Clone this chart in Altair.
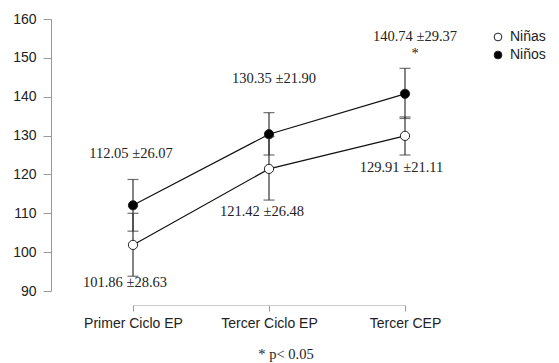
import altair as alt
import pandas as pd

# ---- data ----
stages = ["Primer Ciclo EP", "Tercer Ciclo EP", "Tercer CEP"]
groups = ["Niñas", "Niños"]

girls_mean = [101.86, 121.42, 129.91]
girls_sd = [28.63, 26.48, 21.11]
girls_lo = [93.8, 113.4, 125.0]
girls_hi = [110.0, 129.7, 134.8]

boys_mean = [112.05, 130.35, 140.74]
boys_sd = [26.07, 21.90, 29.37]
boys_lo = [105.4, 125.0, 134.4]
boys_hi = [118.7, 135.9, 147.3]

y_ticks = [90, 100, 110, 120, 130, 140, 150, 160]

rows = []
for i, st in enumerate(stages):
    rows.append(dict(idx=i, stage=st, sex="Niñas", mean=girls_mean[i], sd=girls_sd[i],
                     lo=girls_lo[i], hi=girls_hi[i]))
    rows.append(dict(idx=i, stage=st, sex="Niños", mean=boys_mean[i], sd=boys_sd[i],
                     lo=boys_lo[i], hi=boys_hi[i]))
df = pd.DataFrame(rows)

# annotation anchors (data units) for the value labels
lab_y = {"Niñas": [92.0, 110.3, 121.6], "Niños": [125.2, 144.6, 155.4]}
lab_dx = {"Niñas": [-8, -7, -3.5], "Niños": [-2, 5, 10]}
ann = []
for i in range(3):
    for sx, m, s in (("Niñas", girls_mean, girls_sd), ("Niños", boys_mean, boys_sd)):
        ann.append(dict(idx=i, y=lab_y[sx][i], dx=lab_dx[sx][i],
                        text=f"{m[i]:.2f} \u00b1{s[i]:.2f}"))
ann_df = pd.DataFrame(ann)
star_df = pd.DataFrame([dict(idx=2, y=151.0, dx=10, text="*")])
foot_df = pd.DataFrame([dict(idx=1, y=73.5, dx=17, text="* p< 0.05")])

label_expr = ("datum.value == 0 ? '%s' : datum.value == 1 ? '%s' : '%s'"
              % tuple(stages))

xs = alt.Scale(domain=[0, 2], range=[82, 354], nice=False, zero=False)
ys = alt.Scale(domain=[90, 160], nice=False, zero=False)
xoff = alt.XOffset("sex:N", scale=alt.Scale(type="point", domain=groups,
                                            range=[-7, 7], padding=0))

x_axis = alt.Axis(values=[0, 1, 2], labelExpr=label_expr, title=None,
                  offset=14, tickSize=6, domainColor="#cccccc",
                  tickColor="#999999", labelFont="Liberation Sans",
                  labelFontSize=14, labelColor="#222222", labelPadding=5,
                  labelOverlap=False, labelBound=False, labelFlush=False, grid=False)
y_axis = alt.Axis(values=y_ticks, title=None,
                  tickSize=8, labelPadding=7, domainColor="#999999",
                  tickColor="#999999", labelFont="Liberation Sans",
                  labelFontSize=14, labelColor="#222222", grid=False,
                  labelOverlap=False, labelBound=False, labelFlush=False)


def X(field):
    return alt.X(field, scale=xs, axis=x_axis)


def Y(field):
    return alt.Y(field, scale=ys, axis=y_axis)


base = alt.Chart(df)

lines = base.mark_line(color="#111111", strokeWidth=1.2).encode(
    x=X("idx:Q"), xOffset=xoff, y=Y("mean:Q"), detail="sex:N")

bars = base.mark_rule(color="#333333", strokeWidth=1.2).encode(
    x=X("idx:Q"), xOffset=xoff, y=Y("lo:Q"), y2="hi:Q")

cap_lo = base.mark_tick(color="#333333", orient="horizontal", size=11, thickness=1.2).encode(
    x=X("idx:Q"), xOffset=xoff, y=Y("lo:Q"))
cap_hi = base.mark_tick(color="#333333", orient="horizontal", size=11, thickness=1.2).encode(
    x=X("idx:Q"), xOffset=xoff, y=Y("hi:Q"))

points = base.mark_point(filled=True, size=85, stroke="#222222", strokeWidth=1,
                         opacity=1, shape="circle").encode(
    x=X("idx:Q"), xOffset=xoff, y=Y("mean:Q"),
    fill=alt.Fill("sex:N", scale=alt.Scale(domain=groups, range=["white", "black"]),
                  legend=alt.Legend(title=None, orient="none", legendX=440, legendY=11,
                                    symbolType="circle", symbolSize=60,
                                    symbolStrokeColor="#222222", symbolStrokeWidth=1,
                                    labelFont="Liberation Sans", labelFontSize=14,
                                    labelColor="#222222", rowPadding=4, labelOffset=5)))


def text_layer(d):
    return alt.Chart(d).transform_calculate(
        xp="datum.idx + datum.dx / 136"
    ).mark_text(font="Liberation Serif", fontSize=14.5, color="#222222").encode(
        x=X("xp:Q"), y=Y("y:Q"), text="text:N")


chart = alt.layer(
    lines, bars, cap_lo, cap_hi, points,
    text_layer(ann_df), text_layer(star_df), text_layer(foot_df)
).properties(
    width=399, height=272,
    autosize=alt.AutoSizeParams(type="none"),
    padding={"left": 43, "top": 11, "right": 101, "bottom": 71},
).configure_view(stroke=None)

chart.save("out.html", embed_options={"renderer": "svg", "actions": False})
